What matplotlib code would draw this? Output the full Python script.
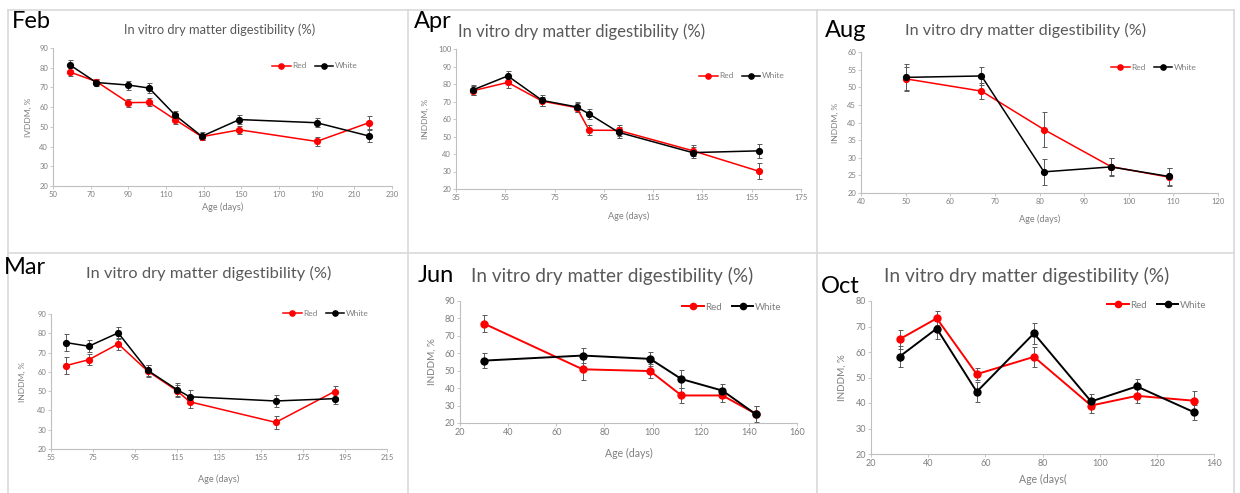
import matplotlib
matplotlib.use("Agg")
import matplotlib.pyplot as plt
from matplotlib.lines import Line2D

plt.rcParams['font.family'] = ['Lato', 'DejaVu Sans']

W, H = 1240, 493

# ---- data ----
feb_age = [59, 73, 90, 101, 115, 129, 149, 190, 218]
feb_red = [77.8, 73.0, 62.3, 62.4, 53.6, 45.0, 48.5, 42.6, 52.2]
feb_red_err = [2.0, 1.5, 2.0, 2.0, 2.0, 1.5, 2.0, 2.2, 3.5]
feb_white = [81.4, 72.5, 71.2, 69.7, 55.8, 45.2, 53.7, 52.1, 45.3]
feb_white_err = [2.5, 2.0, 2.3, 2.3, 2.3, 2.0, 2.3, 2.2, 3.0]

apr_age = [42, 56, 70, 84, 89, 101, 131, 158]
apr_red = [76.2, 80.9, 70.2, 66.5, 53.6, 53.5, 41.9, 30.1]
apr_red_err = [2.5, 3.0, 2.5, 2.5, 3.0, 3.0, 3.0, 4.5]
apr_white = [76.7, 84.6, 70.6, 66.9, 62.9, 52.4, 40.8, 41.8]
apr_white_err = [3.0, 3.0, 3.0, 3.0, 3.0, 3.0, 3.0, 3.8]

aug_age = [50, 67, 81, 96, 109]
aug_red = [52.4, 48.9, 38.0, 27.5, 24.5]
aug_red_err = [3.3, 2.3, 5.0, 2.5, 2.5]
aug_white = [52.8, 53.2, 26.0, 27.4, 24.7]
aug_white_err = [3.8, 2.6, 3.7, 2.6, 2.5]

mar_age = [62, 73, 87, 101, 115, 121, 162, 190]
mar_red = [63.2, 66.3, 74.5, 60.4, 50.2, 44.5, 33.8, 49.8]
mar_red_err = [4.5, 3.0, 3.0, 3.0, 3.2, 3.0, 3.2, 3.0]
mar_white = [75.2, 73.3, 80.2, 60.8, 50.8, 47.1, 44.9, 46.1]
mar_white_err = [4.5, 3.0, 3.2, 3.0, 3.5, 3.5, 3.2, 3.0]

jun_age = [30, 71, 99, 112, 129, 143]
jun_red = [77.0, 50.8, 49.8, 35.8, 35.8, 25.2]
jun_red_err = [5.0, 6.0, 4.2, 4.2, 4.0, 4.5]
jun_white = [55.8, 58.7, 56.8, 45.2, 38.6, 24.9]
jun_white_err = [4.2, 4.2, 4.2, 5.0, 4.0, 5.0]

oct_age = [30, 43, 57, 77, 97, 113, 133]
oct_red = [65.0, 73.2, 51.3, 58.1, 39.0, 42.8, 40.9]
oct_red_err = [3.8, 2.8, 2.3, 4.0, 2.8, 2.7, 3.8]
oct_white = [58.2, 69.2, 44.4, 67.3, 40.6, 46.5, 36.4]
oct_white_err = [4.0, 4.0, 4.0, 4.0, 3.0, 3.0, 3.0]

series_names = ['Red', 'White']

GRAY_TXT = '#7f7f7f'
GRAY_LINE = '#bfbfbf'


def rect(l, t, r, b):
    return [l / W, 1 - b / H, (r - l) / W, (b - t) / H]


fig = plt.figure(figsize=(W / 100, H / 100), dpi=100)

# panel frames
for x in [8, 408, 817, 1234]:
    fig.add_artist(Line2D([x / W, x / W], [0, 1 - 10 / H], color='#d9d9d9', lw=1.2))
for y in [10, 253]:
    fig.add_artist(Line2D([8 / W, 1234 / W], [1 - y / H, 1 - y / H], color='#d9d9d9', lw=1.2))

panels = [
    dict(month='Feb', age=feb_age, red=feb_red, rerr=feb_red_err, white=feb_white, werr=feb_white_err,
         box=(53, 48, 392, 186), xlim=(50, 230), xstep=20, ylim=(20, 90), ystep=10,
         ylab='IVDDM, %', xlab='Age (days)', mpos=(12, 28), tpos=(220, 30), tsize=9.3,
         lpos=(315, 66), xlpos=207, ylpos=28, tick=5.5, lab=6.6, ms=4.2, lw=1.1),
    dict(month='Apr', age=apr_age, red=apr_red, rerr=apr_red_err, white=apr_white, werr=apr_white_err,
         box=(456, 49, 801, 189), xlim=(35, 175), xstep=20, ylim=(20, 100), ystep=10,
         ylab='INDDM, %', xlab='Age (days)', mpos=(414, 28), tpos=(582, 32), tsize=12.0,
         lpos=(742, 76), xlpos=216, ylpos=425, tick=5.5, lab=6.6, ms=4.2, lw=1.1),
    dict(month='Aug', age=aug_age, red=aug_red, rerr=aug_red_err, white=aug_white, werr=aug_white_err,
         box=(861, 52, 1218, 193), xlim=(40, 120), xstep=10, ylim=(20, 60), ystep=5,
         ylab='INDDM, %', xlab='Age (days)', mpos=(825, 37), tpos=(1026, 30), tsize=11.6,
         lpos=(1154, 67), xlpos=219, ylpos=835, tick=5.5, lab=6.6, ms=4.2, lw=1.1),
    dict(month='Mar', age=mar_age, red=mar_red, rerr=mar_red_err, white=mar_white, werr=mar_white_err,
         box=(51, 314, 387, 449), xlim=(55, 215), xstep=20, ylim=(20, 90), ystep=10,
         ylab='INDDM, %', xlab='Age (days)', mpos=(4, 274), tpos=(209, 273), tsize=11.8,
         lpos=(326, 313), xlpos=479, ylpos=22, tick=5.5, lab=6.6, ms=4.2, lw=1.1),
    dict(month='Jun', age=jun_age, red=jun_red, rerr=jun_red_err, white=jun_white, werr=jun_white_err,
         box=(460, 301, 797, 423), xlim=(20, 160), xstep=20, ylim=(20, 90), ystep=10,
         ylab='INDDM, %', xlab='Age (days)', mpos=(418, 282), tpos=(612, 276), tsize=13.6,
         lpos=(732, 307), xlpos=453, ylpos=432, tick=6.5, lab=7.6, ms=5.0, lw=1.4),
    dict(month='Oct', age=oct_age, red=oct_red, rerr=oct_red_err, white=oct_white, werr=oct_white_err,
         box=(871, 301, 1214, 454), xlim=(20, 140), xstep=20, ylim=(20, 80), ystep=10,
         ylab='INDDM, %', xlab='Age (days(', mpos=(821, 293), tpos=(1027, 276), tsize=13.8,
         lpos=(1157, 305), xlpos=479, ylpos=842, tick=6.5, lab=7.6, ms=5.0, lw=1.4),
]

for p in panels:
    l, t, r, b = p['box']
    ax = fig.add_axes(rect(l, t, r, b))
    for vals, err, col in [(p['red'], p['rerr'], '#ff0000'), (p['white'], p['werr'], '#000000')]:
        ax.errorbar(p['age'], vals, yerr=err, color=col, marker='o', ms=p['ms'], lw=p['lw'],
                    ecolor='#595959', elinewidth=0.7, capsize=1.8, capthick=0.7)
    ax.set_xlim(*p['xlim'])
    ax.set_ylim(*p['ylim'])
    ax.set_xticks(range(p['xlim'][0], p['xlim'][1] + 1, p['xstep']))
    ax.set_yticks(range(p['ylim'][0], p['ylim'][1] + 1, p['ystep']))
    for s in ['top', 'right']:
        ax.spines[s].set_visible(False)
    for s in ['left', 'bottom']:
        ax.spines[s].set_color(GRAY_LINE)
        ax.spines[s].set_linewidth(0.8)
    ax.tick_params(labelsize=p['tick'], colors=GRAY_TXT, length=2, width=0.6, pad=1.5)
    ax.tick_params(axis='both', color=GRAY_LINE)
    ax.patch.set_alpha(0)

    handles = [Line2D([], [], color=c, marker='o', ms=p['ms'] * 0.9, lw=p['lw']) for c in ['#ff0000', '#000000']]
    fig.legend(handles, series_names, loc='center', bbox_to_anchor=(p['lpos'][0] / W, 1 - p['lpos'][1] / H),
               ncol=2, frameon=False, fontsize=p['tick'] + 0.5, labelcolor=GRAY_TXT,
               handlelength=2.2, handletextpad=0.2, columnspacing=1.0, borderpad=0)

    fig.text(p['mpos'][0] / W, 1 - p['mpos'][1] / H, p['month'], fontsize=17, color='black',
             ha='left', va='baseline')
    fig.text(p['tpos'][0] / W, 1 - p['tpos'][1] / H, 'In vitro dry matter digestibility (%)',
             fontsize=p['tsize'], color='#595959', ha='center', va='center')
    fig.text((l + r) / 2 / W, 1 - p['xlpos'] / H, p['xlab'], fontsize=p['lab'], color=GRAY_TXT,
             ha='center', va='center')
    fig.text(p['ylpos'] / W, 1 - (t + b) / 2 / H, p['ylab'], fontsize=p['lab'] - 0.5, color=GRAY_TXT,
             ha='center', va='center', rotation=90)

fig.savefig('out.png', dpi=100)
